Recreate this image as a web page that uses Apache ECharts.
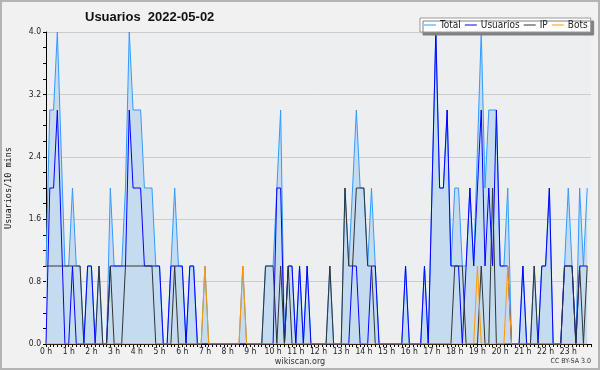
<!DOCTYPE html>
<html><head><meta charset="utf-8">
<script src="https://cdn.jsdelivr.net/npm/echarts@6/dist/echarts.min.js"></script>
<style>html,body{margin:0;padding:0;background:#f1f1f1}#c{width:600px;height:370px}</style>
</head><body><div id="c"></div>
<script>
// 10-minute slots of 2022-05-02 (index 0..143)
var hourLabels = ['0 h','1 h','2 h','3 h','4 h','5 h','6 h','7 h','8 h','9 h','10 h','11 h','12 h','13 h','14 h','15 h','16 h','17 h','18 h','19 h','20 h','21 h','22 h','23 h'];
var yTickLabels = ['0.0','0.8','1.6','2.4','3.2','4.0'];
var seriesNames = ['Total','Usuarios','IP','Bots'];
var total = [
1,3,3,4,2.5,1,1,2,1,1, 0,1,1,0,1,0,0,2,1,1, 1,2,4,3,3,3,2,2,2,1,
1,0,0,1,2,1,1,0,1,1, 0,0,1,0,0,0,0,0,0,0, 0,0,1,0,0,0,0,0,1,1,
1,2,3,0,1,1,0,1,0,1, 0,0,0,0,0,1,0,0,0,2, 1,2,3,2,2,1,2,1,0,0,
0,0,0,0,0,1,0,0,0,0, 1,0,2,4,2,2,3,1,2,2, 1,1,2,1,2.5,4,2,3,3,3,
1,1,2,0,0,0,1,0,0,1, 0,1,1,2,0,0,0,1,2,1, 0,2,1,2];
var usuarios = [
0,2,2,3,1.5,0,0,1,0,0, 0,1,1,0,0,0,0,1,1,1, 1,1,3,2,2,2,1,1,1,1,
1,0,0,1,1,1,1,0,1,1, 0,0,0,0,0,0,0,0,0,0, 0,0,0,0,0,0,0,0,0,0,
0,2,2,0,1,1,0,1,0,1, 0,0,0,0,0,0,0,0,0,0, 0,1,1,0,0,0,1,1,0,0,
0,0,0,0,0,1,0,0,0,0, 1,0,2,4,2,2,3,1,1,1, 0,1,2,1,2,3,1,2,1,3,
1,1,1,0,0,0,1,0,0,0, 0,1,1,2,0,0,0,1,1,1, 0,1,1,1];
var ip = [
1,1,1,1,1,1,1,1,1,1, 0,0,0,0,1,0,0,1,0,0, 0,1,1,1,1,1,1,1,1,0,
0,0,0,0,1,0,0,0,0,0, 0,0,0,0,0,0,0,0,0,0, 0,0,0,0,0,0,0,0,1,1,
1,0,1,0,1,0,0,0,0,0, 0,0,0,0,0,1,0,0,0,2, 1,1,2,2,2,1,1,0,0,0,
0,0,0,0,0,0,0,0,0,0, 0,0,0,0,0,0,0,0,1,1, 1,0,0,0,0,1,0,0,2,0,
0,0,0,0,0,0,0,0,0,1, 0,0,0,0,0,0,0,1,1,1, 0,1,0,1];
var bots = [
0,0,0,0,0,0,0,0,0,0, 0,0,0,0,0,0,0,0,0,0, 0,0,0,0,0,0,0,0,0,0,
0,0,0,0,0,0,0,0,0,0, 0,0,1,0,0,0,0,0,0,0, 0,0,1,0,0,0,0,0,0,0,
0,0,0,0,0,0,0,0,0,0, 0,0,0,0,0,0,0,0,0,0, 0,0,0,0,0,0,0,0,0,0,
0,0,0,0,0,0,0,0,0,0, 0,0,0,0,0,0,0,0,0,0, 0,0,0,0,1,0,0,0,0,0,
0,0,1,0,0,0,0,0,0,0, 0,0,0,0,0,0,0,0,0,0, 0,0,0,0];

function pairs(arr){ return arr.map(function(v,i){ return [i,v]; }); }

var chart = echarts.init(document.getElementById('c'), null, {renderer:'canvas'});
var axisFont = 'DejaVu Sans Condensed, DejaVu Sans, sans-serif';
chart.setOption({
  animation:false,
  backgroundColor:'#f1f1f1',
  title:{text:'Usuarios  2022-05-02', left:80, top:6,
    textStyle:{fontFamily:'Liberation Sans, Arial, sans-serif', fontSize:13, fontWeight:'bold', color:'#111'}},
  legend:{data:seriesNames, left:420, top:18, orient:'horizontal',
    backgroundColor:'#ffffff', borderColor:'#999', borderWidth:1,
    shadowColor:'#808080', shadowBlur:0, shadowOffsetX:3, shadowOffsetY:3,
    padding:[2,3,2,4], itemGap:4, itemWidth:12, itemHeight:1, icon:'rect',
    textStyle:{fontFamily:axisFont, fontSize:10, color:'#222', padding:[0,0,0,-1]}},
  grid:{left:46, right:9, top:32, bottom:26, show:true, backgroundColor:'#eceef0', borderWidth:0,
    containLabel:false, outerBoundsMode:'none'},
  xAxis:{type:'value', min:0, max:144, interval:6,
    axisLine:{show:true, lineStyle:{color:'#000', width:1}},
    axisTick:{show:true, length:3, lineStyle:{color:'#000'}},
    minorTick:{show:true, splitNumber:6, length:3, lineStyle:{color:'#000'}},
    splitLine:{show:false},
    axisLabel:{margin:3, fontFamily:axisFont, fontSize:8.5, color:'#222',
      formatter:function(v){ var k=Math.round(v/6); return k<hourLabels.length ? hourLabels[k] : ''; }}},
  yAxis:{type:'value', min:0, max:4, interval:0.8,
    name:'Usuarios/10 mins', nameLocation:'middle', nameGap:33, nameRotate:90,
    nameTextStyle:{fontFamily:'DejaVu Sans Mono, monospace', fontSize:8.5, color:'#111'},
    axisLine:{show:true, lineStyle:{color:'#000', width:1}},
    axisTick:{show:true, length:3, lineStyle:{color:'#000'}},
    minorTick:{show:true, splitNumber:4, length:3, lineStyle:{color:'#000'}},
    splitLine:{show:true, lineStyle:{color:'#cccccc', width:1}},
    axisLabel:{margin:5, fontFamily:axisFont, fontSize:8.5, color:'#222',
      formatter:function(v){ return yTickLabels[Math.round(v/0.8)]; }}},
  series:[
    {name:'Total', type:'line', data:pairs(total), showSymbol:false, symbol:'none',
      lineStyle:{color:'#3399ff', width:1}, itemStyle:{color:'#3399ff'},
      areaStyle:{color:'#c5dcf0', opacity:1}},
    {name:'Usuarios', type:'line', data:pairs(usuarios), showSymbol:false, symbol:'none',
      lineStyle:{color:'#0000ff', width:1}, itemStyle:{color:'#0000ff'}},
    {name:'IP', type:'line', data:pairs(ip), showSymbol:false, symbol:'none',
      lineStyle:{color:'#333333', width:1}, itemStyle:{color:'#333333'}},
    {name:'Bots', type:'line', data:pairs(bots), showSymbol:false, symbol:'none',
      lineStyle:{color:'#ff9900', width:1}, itemStyle:{color:'#ff9900'}}
  ],
  graphic:[
    {type:'rect', shape:{x:1, y:1, width:598, height:368}, style:{fill:'none', stroke:'#b4b4b4', lineWidth:2}, silent:true},
    {type:'text', left:'center', top:357, style:{text:'wikiscan.org', fontFamily:axisFont, fontSize:9, fill:'#333'}},
    {type:'text', right:9, top:358, style:{text:'CC BY-SA 3.0', fontFamily:axisFont, fontSize:7, fill:'#333'}}
  ]
});
</script></body></html>
